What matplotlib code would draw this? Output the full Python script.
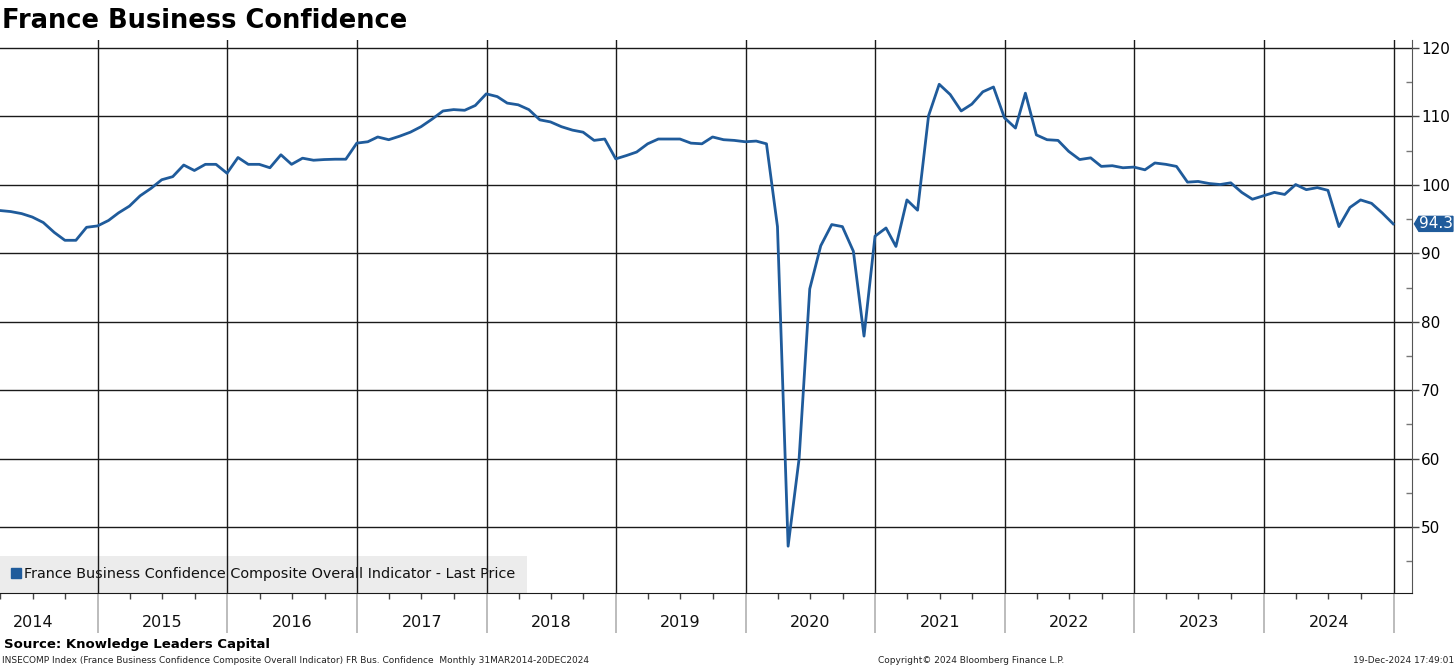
import numpy as np
import pandas as pd
import matplotlib
matplotlib.use("Agg")
import matplotlib.pyplot as plt
import matplotlib.dates as mdates
from matplotlib.path import Path
from matplotlib.lines import Line2D

plt.rcParams['font.family'] = ['DejaVu Sans']

# monthly values, Mar 2014 .. Dec 2024
start = '2014-03-31'
vals_2014 = [96.25, 96.1, 95.8, 95.3, 94.5, 93.05, 91.9, 91.9, 93.8, 94.0]
vals_2015 = [94.8, 95.9, 96.9, 98.4, 99.5, 100.75, 101.2, 102.9, 102.1, 103.0, 103.0, 101.7]
vals_2016 = [104.0, 103.0, 103.0, 102.5, 104.4, 103.0, 103.9, 103.6, 103.7, 103.75, 103.75, 106.1]
vals_2017 = [106.3, 107.0, 106.6, 107.1, 107.7, 108.5, 109.6, 110.8, 111.0, 110.9, 111.6, 113.3]
vals_2018 = [112.9, 111.95, 111.7, 111.0, 109.5, 109.2, 108.5, 108.0, 107.7, 106.5, 106.7, 103.8]
vals_2019 = [104.3, 104.8, 106.0, 106.7, 106.7, 106.7, 106.1, 106.0, 107.0, 106.6, 106.5, 106.3]
vals_2020 = [106.4, 106.0, 93.9, 47.2, 60.0, 84.8, 91.1, 94.2, 93.9, 90.3, 77.9, 92.5]
vals_2021 = [93.7, 91.0, 97.8, 96.3, 110.1, 114.7, 113.2, 110.8, 111.8, 113.6, 114.3, 109.8]
vals_2022 = [108.3, 113.4, 107.3, 106.6, 106.5, 104.9, 103.7, 103.95, 102.7, 102.8, 102.5, 102.6]
vals_2023 = [102.2, 103.2, 103.0, 102.7, 100.4, 100.5, 100.2, 100.05, 100.3, 98.9, 97.9, 98.4]
vals_2024 = [98.9, 98.6, 100.05, 99.3, 99.6, 99.2, 93.9, 96.7, 97.8, 97.3, 95.9, 94.3]

values = (vals_2014 + vals_2015 + vals_2016 + vals_2017 + vals_2018 + vals_2019
          + vals_2020 + vals_2021 + vals_2022 + vals_2023 + vals_2024)
dates = pd.date_range(start, periods=len(values), freq='ME')
years = list(range(2014, 2025))
yticks = [50, 60, 70, 80, 90, 100, 110, 120]

blue = '#1f5b9b'
W, H = 1456, 666

fig = plt.figure(figsize=(W / 100, H / 100), dpi=100)
ax = fig.add_axes([0, 1 - 593 / H, 1412 / W, (593 - 40) / H])

ax.plot(dates, values, color=blue, lw=2.0, zorder=3)

ax.set_xlim(pd.Timestamp('2014-03-31'), pd.Timestamp('2025-02-22'))
ax.set_ylim(40.36, 121.17)

# y axis on the right
ax.yaxis.tick_right()
ax.set_yticks(yticks)
ax.set_yticks(np.arange(45, 121, 5), minor=True)
ax.tick_params(axis='y', which='major', direction='out', length=5, width=1,
               color='#444444', labelsize=11, pad=1.5)
ax.tick_params(axis='y', which='minor', direction='in', length=4, width=1,
               color='#777777')
ax.yaxis.grid(True, which='major', color='#1a1a1a', lw=1.0)

# x axis: year separators, quarterly ticks
ax.xaxis.set_major_locator(mdates.YearLocator())
ax.xaxis.set_minor_locator(mdates.MonthLocator(bymonth=[1, 4, 7, 10]))
ax.xaxis.set_major_formatter(plt.NullFormatter())
ax.tick_params(axis='x', which='major', direction='out', length=29, width=1.2,
               color='#b0b0b0')
ax.tick_params(axis='x', which='minor', direction='out', length=4, width=1,
               color='#444444')
ax.xaxis.grid(True, which='major', color='#1a1a1a', lw=1.0)
ax.set_axisbelow(True)

for y in years:
    mid = pd.Timestamp(f'{y}-07-02')
    ax.text(mid, -0.054, str(y), transform=ax.get_xaxis_transform(),
            ha='center', va='center', fontsize=11.5, color='#111111')

for s in ['top', 'left']:
    ax.spines[s].set_visible(False)
ax.spines['right'].set_color('#555555')
ax.spines['bottom'].set_color('#1a1a1a')

# legend box (grid lines show through it, as in the original)
handle = Line2D([], [], marker='s', ls='', color=blue, markersize=7)
leg = ax.legend([handle], ['France Business Confidence Composite Overall Indicator - Last Price'],
                loc='lower left', borderaxespad=0, frameon=True, fancybox=False,
                handlelength=0.6, handletextpad=0.25, borderpad=0.8,
                fontsize=10.4, labelcolor='#111111')
leg.get_frame().set_facecolor('#ececec')
leg.get_frame().set_edgecolor('none')
leg.get_frame().set_alpha(1)
leg.set_zorder(0.4)


# last value tag
def tag_box(x0, y0, width, height, mutation_size):
    tip = height * 0.3
    verts = [(x0 - tip, y0 + height / 2), (x0, y0), (x0 + width, y0),
             (x0 + width, y0 + height), (x0, y0 + height), (x0 - tip, y0 + height / 2)]
    codes = [Path.MOVETO] + [Path.LINETO] * 4 + [Path.CLOSEPOLY]
    return Path(verts, codes)


last = values[-1]
ax.annotate(f'{last:.1f}', xy=(1, last), xycoords=('axes fraction', 'data'),
            xytext=(5, 0), textcoords='offset points', ha='left', va='center',
            fontsize=11, color='white', annotation_clip=False,
            bbox=dict(boxstyle=tag_box, facecolor=blue, edgecolor=blue, pad=0.2))

# title and footers
fig.text(2 / W, 1 - 28 / H, 'France Business Confidence', fontsize=18.5,
         fontweight='bold', va='baseline', ha='left', color='black')
fig.text(4 / W, 1 - 648 / H, 'Source: Knowledge Leaders Capital', fontsize=9.5,
         fontweight='bold', va='baseline', ha='left', color='black')
fig.text(2 / W, 1 - 663 / H,
         'INSECOMP Index (France Business Confidence Composite Overall Indicator) FR Bus. Confidence  Monthly 31MAR2014-20DEC2024',
         fontsize=6.5, va='baseline', ha='left', color='#222222')
fig.text(971 / W, 1 - 663 / H, 'Copyright\u00a9 2024 Bloomberg Finance L.P.',
         fontsize=6.5, va='baseline', ha='center', color='#222222')
fig.text(1454 / W, 1 - 663 / H, '19-Dec-2024 17:49:01',
         fontsize=6.5, va='baseline', ha='right', color='#222222')

fig.savefig('out.png', dpi=100)
